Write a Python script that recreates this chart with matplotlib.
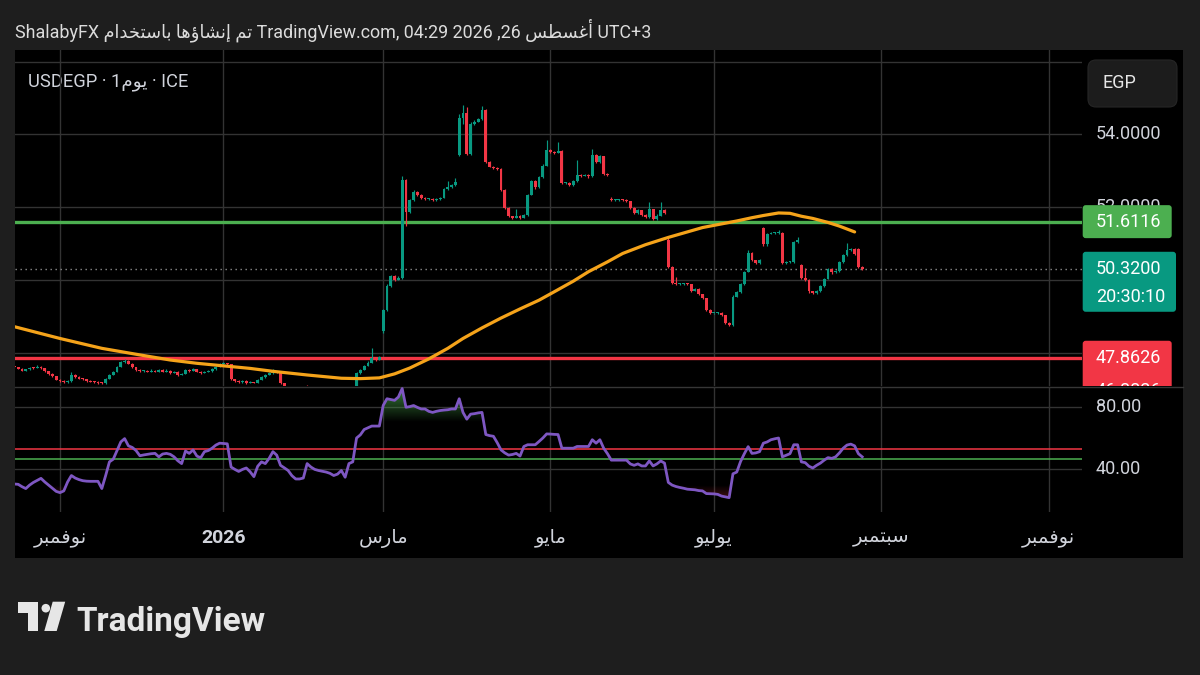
import numpy as np
import matplotlib
matplotlib.use("Agg")
import matplotlib.pyplot as plt
from matplotlib.patches import Rectangle, FancyBboxPatch, Polygon, Circle, PathPatch
from matplotlib.path import Path
from matplotlib import font_manager

plt.rcParams['font.family'] = ['Roboto', 'DejaVu Sans']

# ---------------- data (daily bars, USDEGP) ----------------
opens = [
 47.66, 47.64, 47.62, 47.58, 47.53, 47.56, 47.61, 47.60, 47.64, 47.60,
 47.52, 47.44, 47.38, 47.28, 47.24, 47.21, 47.24, 47.41, 47.35, 47.31,
 47.29, 47.25, 47.23, 47.22, 47.19, 47.18, 47.30, 47.42, 47.50, 47.63,
 47.76, 47.80, 47.72, 47.62, 47.55, 47.52, 47.53, 47.50, 47.52, 47.50,
 47.55, 47.50, 47.53, 47.47, 47.50, 47.41, 47.44, 47.55, 47.52, 47.56,
 47.50, 47.47, 47.49, 47.51, 47.56, 47.63, 47.70, 47.73, 47.71, 47.30,
 47.24, 47.22, 47.25, 47.19, 47.22, 47.20, 47.28, 47.35, 47.42, 47.46,
 47.50, 47.48, 47.18, 47.02, 46.95, 46.92, 46.98, 47.05, 47.08, 47.05,
 46.98, 46.92, 46.88, 46.90, 46.85, 46.92, 46.95, 46.93, 46.97, 47.00,
 46.98, 47.02, 47.46, 47.55, 47.66, 47.75, 47.87, 47.82, 48.62, 49.19,
 49.85, 50.12, 50.02, 50.08, 52.75, 51.88, 52.20, 52.43, 52.34, 52.26,
 52.22, 52.24, 52.21, 52.23, 52.26, 52.50, 52.55, 52.62, 53.45, 54.44,
 54.60, 53.47, 54.30, 54.35, 54.42, 54.67, 53.25, 53.12, 53.08, 53.06,
 52.48, 51.99, 51.76, 51.72, 51.78, 51.72, 51.80, 52.35, 52.72, 52.55,
 52.84, 53.15, 53.58, 53.52, 53.50, 53.55, 52.66, 52.68, 52.62, 52.72,
 52.89, 52.87, 52.89, 52.85, 53.45, 53.25, 53.40, 52.92, 52.22, 52.20,
 52.20, 52.21, 52.20, 52.18, 51.98, 51.84, 51.92, 51.80, 51.74, 51.95,
 51.68, 51.78, 51.93, 51.11, 50.38, 49.92, 49.90, 49.90, 49.90, 49.89,
 49.72, 49.76, 49.62, 49.51, 49.20, 49.10, 49.10, 49.12, 49.05, 48.83,
 48.78, 49.56, 49.68, 49.90, 50.24, 50.75, 50.55, 50.48, 51.43, 51.00,
 51.28, 51.29, 51.29, 51.30, 50.47, 50.50, 50.50, 51.05, 50.42, 50.08,
 50.02, 49.70, 49.66, 49.70, 49.85, 50.05, 50.32, 50.22, 50.25, 50.50,
 50.70, 50.83, 50.86, 50.85, 50.38]
closes = [
 47.64, 47.62, 47.58, 47.53, 47.56, 47.61, 47.60, 47.64, 47.60, 47.52,
 47.44, 47.38, 47.28, 47.24, 47.21, 47.24, 47.41, 47.35, 47.31, 47.29,
 47.25, 47.23, 47.22, 47.19, 47.18, 47.30, 47.42, 47.50, 47.63, 47.76,
 47.80, 47.72, 47.62, 47.55, 47.52, 47.53, 47.50, 47.52, 47.50, 47.55,
 47.50, 47.53, 47.47, 47.50, 47.41, 47.44, 47.55, 47.52, 47.56, 47.50,
 47.47, 47.49, 47.51, 47.56, 47.63, 47.70, 47.73, 47.71, 47.30, 47.24,
 47.22, 47.25, 47.19, 47.22, 47.20, 47.28, 47.35, 47.42, 47.46, 47.50,
 47.48, 47.18, 47.02, 46.95, 46.92, 46.98, 47.05, 47.08, 47.05, 46.98,
 46.92, 46.88, 46.90, 46.85, 46.92, 46.95, 46.93, 46.97, 47.00, 46.98,
 47.02, 47.46, 47.55, 47.66, 47.75, 47.87, 47.82, 47.90, 49.19, 49.85,
 50.12, 50.02, 50.08, 52.75, 51.88, 52.20, 52.43, 52.34, 52.26, 52.22,
 52.24, 52.21, 52.23, 52.26, 52.50, 52.55, 52.62, 52.70, 54.44, 54.60,
 53.47, 54.30, 54.35, 54.42, 54.67, 53.25, 53.12, 53.08, 53.06, 52.48,
 51.99, 51.76, 51.72, 51.78, 51.72, 51.80, 52.35, 52.72, 52.55, 52.84,
 53.15, 53.58, 53.52, 53.50, 53.55, 52.66, 52.68, 52.62, 52.72, 52.89,
 52.87, 52.89, 52.85, 53.45, 53.25, 53.40, 52.92, 52.88, 52.20, 52.20,
 52.21, 52.20, 52.18, 51.98, 51.84, 51.92, 51.80, 51.74, 51.95, 51.68,
 51.78, 51.93, 51.86, 50.38, 49.92, 49.90, 49.90, 49.90, 49.89, 49.72,
 49.76, 49.62, 49.51, 49.20, 49.10, 49.10, 49.12, 49.05, 48.83, 48.78,
 49.56, 49.68, 49.90, 50.24, 50.75, 50.55, 50.48, 50.55, 51.00, 51.28,
 51.29, 51.29, 51.30, 50.47, 50.50, 50.50, 51.05, 51.10, 50.08, 50.02,
 49.70, 49.66, 49.70, 49.85, 50.05, 50.32, 50.22, 50.25, 50.50, 50.70,
 50.83, 50.86, 50.72, 50.38, 50.32]
highs = [
 47.68, 47.66, 47.64, 47.60, 47.58, 47.64, 47.63, 47.67, 47.66, 47.61,
 47.53, 47.46, 47.39, 47.30, 47.26, 47.27, 47.50, 47.43, 47.37, 47.33,
 47.31, 47.27, 47.25, 47.24, 47.21, 47.32, 47.44, 47.53, 47.66, 47.79,
 47.84, 47.81, 47.73, 47.63, 47.57, 47.55, 47.55, 47.56, 47.54, 47.58,
 47.56, 47.56, 47.54, 47.53, 47.51, 47.47, 47.58, 47.56, 47.59, 47.57,
 47.52, 47.52, 47.54, 47.59, 47.66, 47.73, 47.76, 47.75, 47.72, 47.31,
 47.26, 47.27, 47.26, 47.24, 47.23, 47.30, 47.37, 47.45, 47.48, 47.56,
 47.52, 47.49, 47.19, 47.03, 46.97, 47.00, 47.07, 47.09, 47.14, 47.06,
 46.99, 46.93, 46.92, 46.91, 46.94, 46.97, 46.96, 46.99, 47.02, 47.01,
 47.04, 47.48, 47.58, 47.69, 47.78, 48.14, 47.89, 47.93, 49.22, 49.90,
 50.16, 50.15, 50.12, 52.85, 52.78, 52.24, 52.48, 52.45, 52.36, 52.28,
 52.26, 52.26, 52.25, 52.28, 52.53, 52.72, 52.65, 52.80, 54.55, 54.81,
 54.75, 54.34, 54.40, 54.46, 54.78, 54.70, 53.27, 53.14, 53.10, 53.08,
 52.50, 52.01, 51.78, 51.95, 51.80, 51.83, 52.38, 52.76, 52.74, 52.87,
 53.18, 53.85, 53.60, 53.55, 53.80, 53.58, 52.71, 52.70, 52.75, 53.30,
 52.92, 52.92, 52.91, 53.59, 53.47, 53.43, 53.42, 52.94, 52.30, 52.23,
 52.24, 52.23, 52.22, 52.19, 52.00, 51.95, 51.94, 51.82, 52.16, 51.97,
 51.81, 52.16, 51.95, 51.15, 50.40, 50.10, 49.93, 49.92, 49.92, 49.91,
 49.79, 49.78, 49.64, 49.53, 49.22, 49.12, 49.14, 49.14, 49.06, 48.86,
 49.60, 49.72, 49.93, 50.27, 50.83, 50.77, 50.57, 50.60, 51.47, 51.31,
 51.32, 51.32, 51.38, 51.32, 50.53, 50.53, 51.08, 51.18, 50.44, 50.33,
 50.04, 49.72, 49.73, 49.88, 50.08, 50.35, 50.34, 50.28, 50.53, 50.73,
 51.02, 50.89, 50.88, 50.90, 50.40]
lows = [
 47.62, 47.60, 47.56, 47.51, 47.51, 47.55, 47.58, 47.59, 47.58, 47.50,
 47.42, 47.36, 47.26, 47.22, 47.19, 47.20, 47.23, 47.33, 47.29, 47.27,
 47.23, 47.21, 47.20, 47.17, 47.16, 47.17, 47.29, 47.41, 47.49, 47.62,
 47.74, 47.70, 47.60, 47.53, 47.50, 47.50, 47.48, 47.49, 47.48, 47.49,
 47.48, 47.49, 47.45, 47.46, 47.39, 47.40, 47.43, 47.50, 47.51, 47.48,
 47.45, 47.46, 47.48, 47.50, 47.55, 47.62, 47.69, 47.69, 47.28, 47.22,
 47.20, 47.20, 47.17, 47.18, 47.18, 47.19, 47.27, 47.34, 47.41, 47.45,
 47.46, 47.16, 47.00, 46.93, 46.90, 46.91, 46.97, 47.04, 47.03, 46.96,
 46.90, 46.86, 46.87, 46.83, 46.84, 46.91, 46.91, 46.92, 46.96, 46.96,
 46.97, 47.01, 47.45, 47.54, 47.65, 47.74, 47.80, 47.81, 48.55, 49.15,
 49.82, 49.98, 50.00, 50.05, 51.50, 51.85, 52.18, 52.31, 52.23, 52.20,
 52.20, 52.19, 52.19, 52.21, 52.25, 52.48, 52.53, 52.60, 53.40, 54.30,
 53.44, 53.45, 54.26, 54.33, 54.40, 53.22, 53.10, 53.06, 53.04, 52.45,
 51.96, 51.73, 51.69, 51.70, 51.69, 51.70, 51.78, 52.33, 52.52, 52.53,
 52.82, 53.13, 53.49, 53.47, 53.48, 52.63, 52.63, 52.59, 52.60, 52.70,
 52.84, 52.85, 52.82, 52.83, 53.22, 53.23, 52.89, 52.85, 52.18, 52.18,
 52.18, 52.18, 52.16, 51.95, 51.81, 51.82, 51.77, 51.71, 51.72, 51.65,
 51.66, 51.76, 51.83, 50.35, 49.89, 49.87, 49.87, 49.88, 49.87, 49.69,
 49.70, 49.60, 49.48, 49.17, 49.08, 49.08, 49.08, 49.03, 48.80, 48.75,
 48.76, 49.55, 49.66, 49.88, 50.22, 50.52, 50.45, 50.46, 50.95, 50.95,
 51.26, 51.27, 51.27, 50.44, 50.44, 50.47, 50.48, 51.03, 50.05, 49.99,
 49.67, 49.63, 49.64, 49.68, 49.83, 50.03, 50.19, 50.20, 50.23, 50.48,
 50.68, 50.80, 50.70, 50.35, 50.30]
rsi = [
 31.5, 30.7, 30.5, 29.0, 27.8, 30.0, 31.7, 33.0, 34.3, 32.0,
 30.0, 28.0, 26.0, 25.2, 26.3, 32.0, 36.1, 34.5, 33.5, 32.8,
 32.5, 32.4, 32.4, 32.4, 27.8, 36.0, 44.8, 46.5, 52.0, 57.5,
 59.6, 55.0, 54.0, 52.0, 48.7, 49.2, 49.6, 50.0, 50.2, 48.0,
 49.8, 50.2, 49.6, 48.0, 45.5, 43.7, 51.7, 50.2, 52.4, 48.5,
 47.4, 51.3, 52.0, 53.5, 55.5, 56.7, 56.5, 56.3, 41.5, 40.0,
 38.7, 40.0, 40.9, 38.5, 35.4, 42.0, 44.8, 43.7, 47.0, 51.3,
 49.1, 42.6, 41.0, 39.3, 36.0, 33.9, 33.9, 34.5, 43.7, 41.5,
 40.0, 39.3, 38.8, 38.3, 37.5, 36.1, 37.0, 39.3, 35.0, 43.7,
 44.8, 60.0, 62.0, 65.4, 66.5, 67.6, 67.6, 67.6, 80.7, 85.0,
 84.5, 84.0, 86.1, 91.5, 79.6, 80.0, 80.7, 79.5, 78.5, 78.5,
 77.0, 76.3, 77.0, 77.5, 77.8, 78.0, 78.5, 78.5, 85.0, 76.3,
 72.0, 75.2, 75.5, 76.0, 76.3, 62.2, 61.5, 61.1, 57.0, 52.4,
 50.5, 49.1, 49.5, 50.2, 48.5, 54.6, 55.7, 55.7, 55.7, 57.8,
 60.0, 62.6, 62.5, 62.3, 62.2, 53.5, 53.5, 53.5, 53.5, 54.6,
 54.6, 54.6, 54.6, 58.9, 56.7, 58.9, 53.5, 50.0, 45.9, 45.9,
 45.9, 45.9, 45.9, 43.5, 42.6, 43.5, 42.2, 42.2, 45.4, 42.2,
 43.5, 45.4, 44.0, 31.7, 30.0, 29.1, 28.5, 28.0, 27.4, 27.2,
 27.0, 26.5, 26.3, 24.6, 24.5, 24.4, 24.1, 23.0, 22.5, 22.0,
 37.2, 38.3, 45.0, 50.0, 54.5, 50.2, 50.5, 51.3, 56.7, 57.5,
 58.9, 59.5, 60.0, 48.0, 49.0, 50.0, 55.7, 55.7, 44.8, 44.3,
 42.0, 40.9, 42.6, 44.0, 45.9, 47.5, 47.0, 48.0, 50.5, 53.5,
 55.5, 56.1, 55.0, 50.0, 48.0]
ma_bars = [0, 13, 24, 34, 42, 49, 56, 63, 69, 78, 87, 92, 97, 101, 105, 110,
           115, 119, 124, 129, 134, 139, 143, 148, 152, 157, 161, 167, 173,
           178, 182, 187, 191, 195, 198, 202, 205, 208, 211, 215, 218, 222]
ma_vals = [48.76, 48.41, 48.14, 47.96, 47.82, 47.73, 47.66, 47.59, 47.51,
           47.41, 47.32, 47.31, 47.33, 47.44, 47.60, 47.85, 48.14, 48.41,
           48.70, 48.97, 49.22, 49.46, 49.69, 49.98, 50.24, 50.51, 50.74,
           50.98, 51.18, 51.33, 51.45, 51.55, 51.63, 51.72, 51.78, 51.85,
           51.84, 51.76, 51.70, 51.59, 51.49, 51.33]
month_ticks = [13, 56, 98, 142, 185, 229, 273]
month_labels = ['نوفمبر', '2026', 'مارس', 'مايو', 'يوليو', 'سبتمبر', 'نوفمبر']
price_grid = [56, 54, 52, 50, 48]
price_tick_labels = [54, 52]          # the others are hidden under buttons/labels
osc_ticks = [80, 40]
green_level = 51.6116
red_level = 47.8626
last_price = 50.32
extra_label = 46.8826
countdown = '20:30:10'
osc_upper_level = 52.8
osc_lower_level = 46.5
header_parts = ['ShalabyFX', 'باستخدام', 'إنشاؤها', 'تم',
                'TradingView.com, 04:29 2026 ,26', 'أغسطس', 'UTC+3']
symbol_parts = ['USDEGP · 1', 'يوم', ' · ICE']

# ---------------- Arabic shaping (presentation forms, visual order) ----------------
AR = {
    'ا': ('\uFE8D', '\uFE8E', None, None), 'أ': ('\uFE83', '\uFE84', None, None),
    'إ': ('\uFE87', '\uFE88', None, None), 'ؤ': ('\uFE85', '\uFE86', None, None),
    'د': ('\uFEA9', '\uFEAA', None, None), 'ر': ('\uFEAD', '\uFEAE', None, None),
    'و': ('\uFEED', '\uFEEE', None, None),
    'ب': ('\uFE8F', '\uFE90', '\uFE91', '\uFE92'), 'ت': ('\uFE95', '\uFE96', '\uFE97', '\uFE98'),
    'خ': ('\uFEA5', '\uFEA6', '\uFEA7', '\uFEA8'), 'س': ('\uFEB1', '\uFEB2', '\uFEB3', '\uFEB4'),
    'ش': ('\uFEB5', '\uFEB6', '\uFEB7', '\uFEB8'), 'ط': ('\uFEC1', '\uFEC2', '\uFEC3', '\uFEC4'),
    'غ': ('\uFECD', '\uFECE', '\uFECF', '\uFED0'), 'ف': ('\uFED1', '\uFED2', '\uFED3', '\uFED4'),
    'ل': ('\uFEDD', '\uFEDE', '\uFEDF', '\uFEE0'), 'م': ('\uFEE1', '\uFEE2', '\uFEE3', '\uFEE4'),
    'ن': ('\uFEE5', '\uFEE6', '\uFEE7', '\uFEE8'), 'ه': ('\uFEE9', '\uFEEA', '\uFEEB', '\uFEEC'),
    'ي': ('\uFEF1', '\uFEF2', '\uFEF3', '\uFEF4'),
}


def vis(word):
    if not any(ch in AR for ch in word):
        return word
    out = []
    for k, ch in enumerate(word):
        f = AR.get(ch)
        if f is None:
            out.append(ch)
            continue
        prev = word[k - 1] if k > 0 else None
        nxt = word[k + 1] if k < len(word) - 1 else None
        jp = prev in AR and AR[prev][2] is not None
        jn = (nxt in AR) and f[2] is not None
        out.append(f[3] if (jp and jn) else f[1] if jp else f[2] if jn else f[0])
    return ''.join(reversed(out))


# ---------------- layout ----------------
W, H = 1200, 675
PANE_L, PANE_R, SCALE_R = 15, 1082, 1183
TOP, SPLIT, OSC_B, BOTTOM = 50, 386.5, 512, 558
PXP = 36.49                       # pixels per price unit
P_TOP = 54 + (134.5 - TOP) / PXP
P_BOT = 54 - (SPLIT - 134.5) / PXP
PXO = 1.57                        # pixels per oscillator unit
O_TOP = 80 + (406.6 - SPLIT) / PXO
O_BOT = 80 - (OSC_B - 406.6) / PXO
PXB, BAR0 = 3.802, 10.57          # pixels per bar, pixel of bar 0
X_LEFT = (PANE_L - BAR0) / PXB
X_RIGHT = (PANE_R - BAR0) / PXB


def frac(x0, y0, x1, y1):
    return [x0 / W, 1 - y1 / H, (x1 - x0) / W, (y1 - y0) / H]


def ppx(y):  # price at pixel row y (for label placement in the scale column)
    return 54 - (y - 134.5) / PXP


installed = {f.name for f in font_manager.fontManager.ttflist}
LOGO_FAMILY = ['Liberation Sans Narrow'] if 'Liberation Sans Narrow' in installed else ['Roboto']
LOGO_SIZE = 27.5 if LOGO_FAMILY[0] == 'Liberation Sans Narrow' else 24

GREEN, RED = '#089981', '#f23645'
GRID = '#333333'
TXT = '#d1d4dc'

fig = plt.figure(figsize=(12, 6.75), dpi=100, facecolor='#1e1e1e')
bg = fig.add_axes([0, 0, 1, 1])
bg.set_xlim(0, W); bg.set_ylim(H, 0); bg.axis('off')
bg.add_patch(Rectangle((PANE_L, TOP), SCALE_R - PANE_L, BOTTOM - TOP, fc='black', ec='none'))
bg.plot([PANE_L, SCALE_R], [SPLIT, SPLIT], color='#363636', lw=1.0)

header = ' '.join(vis(p) for p in header_parts)
bg.text(15, 30, header, va='center', ha='left', fontsize=12.9, color='#dcdcdc')

# TradingView logo
LOGO = '#e6e6e6'
bg.add_patch(Polygon([(18.3, 601.7), (38.3, 601.7), (38.3, 631), (28.3, 631),
                      (28.3, 613.3), (18.3, 613.3)], closed=True, fc=LOGO, ec='none'))
bg.add_patch(Circle((45.8, 608.2), 4.3, fc=LOGO, ec='none'))
bg.add_patch(Polygon([(52.7, 601.7), (65.2, 601.7), (56.7, 631), (44.3, 631)],
                     closed=True, fc=LOGO, ec='none'))
bg.text(76, 631, 'TradingView', fontsize=LOGO_SIZE, fontweight='bold', color=LOGO,
        va='baseline', ha='left', family=LOGO_FAMILY + ['DejaVu Sans'])

# ---------------- price pane ----------------
ax = fig.add_axes(frac(PANE_L, TOP, PANE_R, SPLIT))
ax.axis('off')
ax.set_xlim(X_LEFT, X_RIGHT); ax.set_ylim(P_BOT, P_TOP)
for p in price_grid:
    ax.axhline(p, color=GRID, lw=1.0, zorder=0)
for t in month_ticks:
    ax.axvline(t, color=GRID, lw=1.0, zorder=0)

o = np.array(opens); c = np.array(closes); hi = np.array(highs); lo = np.array(lows)
xb = np.arange(len(c))
cols = np.where(c >= o, GREEN, RED)
ax.axhline(last_price, color='#8c8c8c', lw=1.0, ls=(0, (1, 2.6)), zorder=1)
ax.axhline(green_level, color='#4caf50', lw=2.4, zorder=2)
ax.axhline(red_level, color='#f23645', lw=2.4, zorder=2)
ax.vlines(xb, lo, hi, colors=cols, lw=0.85, zorder=3)
ax.bar(xb, np.maximum(np.abs(c - o), 0.028), bottom=np.minimum(o, c), width=0.76,
       color=cols, lw=0, zorder=3)
ax.plot(ma_bars, ma_vals, color='#f5a31a', lw=2.3, zorder=4, solid_capstyle='round')

bg.text(28, 82, vis(symbol_parts[0]) + vis(symbol_parts[1]) + symbol_parts[2],
        va='center', ha='left', fontsize=13.2, color=TXT)

# ---------------- oscillator pane ----------------
ao = fig.add_axes(frac(PANE_L, SPLIT, PANE_R, OSC_B))
ao.axis('off')
for t in month_ticks:
    ao.axvline(t, color=GRID, lw=1.0, zorder=0)
for v in osc_ticks:
    ao.axhline(v, color=GRID, lw=1.0, zorder=0)
r = np.array(rsi)
ao.axhline(osc_upper_level, color='#f23645', lw=1.1, zorder=2)
ao.axhline(osc_lower_level, color='#4caf50', lw=1.1, zorder=2)

# gradient fills (overbought above 70, oversold below 30)
for thr, top, col_rgb, cond in [(70, 100, (0.30, 0.69, 0.31), r >= 70),
                                (30, 0, (0.95, 0.21, 0.27), r <= 30)]:
    fb = ao.fill_between(xb, r, thr, where=cond, interpolate=True, color='none', lw=0)
    paths = fb.get_paths()
    if not paths:
        continue
    cpath = Path.make_compound_path(*paths)
    clip = PathPatch(cpath, transform=ao.transData, fc='none', ec='none')
    img = np.zeros((256, 2, 4))
    img[..., 0], img[..., 1], img[..., 2] = col_rgb
    img[..., 3] = np.linspace(1.0, 0.0, 256)[:, None]
    lo_e, hi_e = min(thr, top), max(thr, top)
    im = ao.imshow(img, extent=[X_LEFT, X_RIGHT, lo_e, hi_e],
                   origin='upper' if top > thr else 'lower', aspect='auto',
                   zorder=1.5, interpolation='bilinear')
    im.set_clip_path(clip)

ao.plot(xb, r, color='#7e57c2', lw=2.0, zorder=3, solid_joinstyle='round')
ao.set_xlim(X_LEFT, X_RIGHT); ao.set_ylim(O_BOT, O_TOP)

ty = -(538 - OSC_B) / (OSC_B - SPLIT)
for t, lab in zip(month_ticks, month_labels):
    ao.text(t, ty, vis(lab), transform=ao.get_xaxis_transform(), ha='center',
            va='center', fontsize=14, color=TXT, clip_on=False,
            fontweight='bold' if lab.isdigit() else 'normal')

# ---------------- price scale ----------------
ps = fig.add_axes(frac(PANE_R, TOP, SCALE_R, SPLIT))
ps.axis('off')
ps.set_xlim(0, SCALE_R - PANE_R); ps.set_ylim(P_BOT, P_TOP)
for p in price_tick_labels:
    ps.text(14, p, f'{p:.4f}', va='center', ha='left', fontsize=13, color=TXT,
            zorder=2, clip_on=True)


def box(axs, x1, top, bot, color):
    axs.add_patch(FancyBboxPatch((0.7, bot), x1 - 0.7, top - bot,
                                 boxstyle='round,pad=0,rounding_size=3',
                                 mutation_aspect=1 / PXP, fc=color, ec='none',
                                 zorder=3, clip_on=True))


box(ps, 89.7, green_level + 16.5 / PXP, green_level - 16.5 / PXP, '#4caf50')
ps.text(14, green_level, f'{green_level:.4f}', va='center', ha='left', fontsize=13,
        color='white', zorder=4)
box(ps, 94, last_price + 17 / PXP, last_price - 43 / PXP, '#089981')
ps.text(14, last_price, f'{last_price:.4f}', va='center', ha='left', fontsize=13,
        color='white', zorder=4)
ps.text(14, last_price - 28.5 / PXP, countdown, va='center', ha='left', fontsize=13,
        color='white', zorder=4)
box(ps, 89.7, red_level + 17.7 / PXP, red_level - 45 / PXP, '#f23645')
ps.text(14, red_level, f'{red_level:.4f}', va='center', ha='left', fontsize=13,
        color='white', zorder=4)
# stacked label, only its top edge shows above the pane separator
ps.text(14, ppx(391), f'{extra_label:.4f}', va='center', ha='left', fontsize=13,
        color='white', zorder=4, clip_on=True)

# currency button
ps.add_patch(FancyBboxPatch((6, ppx(107)), 89, ppx(60) - ppx(107),
                            boxstyle='round,pad=0,rounding_size=8',
                            mutation_aspect=1 / PXP, fc='#1c1c1c', ec='#262626',
                            lw=0.8, zorder=5))
ps.text(20, ppx(83), 'EGP', va='center', ha='left', fontsize=13, color='#e6e6e6', zorder=6)

# ---------------- oscillator scale ----------------
os_ = fig.add_axes(frac(PANE_R, SPLIT, SCALE_R, OSC_B))
os_.axis('off')
os_.set_xlim(0, SCALE_R - PANE_R); os_.set_ylim(O_BOT, O_TOP)
for v in osc_ticks:
    os_.text(14, v, f'{v:.2f}', va='center', ha='left', fontsize=13, color=TXT)

fig.savefig('out.png', dpi=100, facecolor=fig.get_facecolor())
